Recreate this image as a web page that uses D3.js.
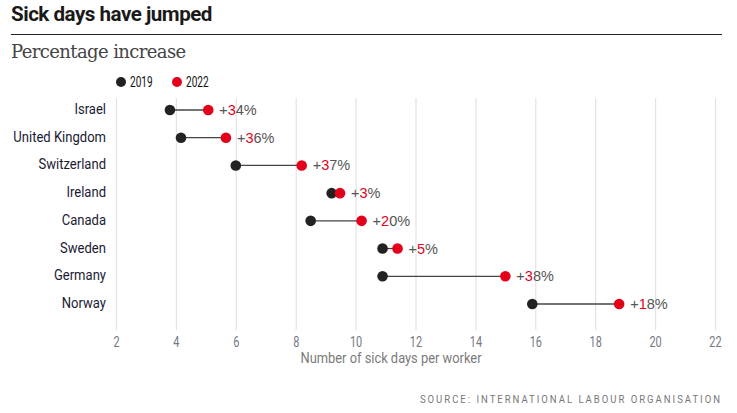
<!DOCTYPE html>
<html>
<head>
<meta charset="utf-8">
<script src="https://cdn.jsdelivr.net/npm/d3@7"></script>
<style>
  body { margin: 0; background: #fff; }
  svg { display: block; }
</style>
</head>
<body>
<svg id="chart" width="737" height="413"></svg>
<script>
// data
var countries = ["Israel", "United Kingdom", "Switzerland", "Ireland", "Canada", "Sweden", "Germany", "Norway"];
var days2019 = [3.8, 4.17, 6.0, 9.2, 8.5, 10.9, 10.9, 15.9];
var days2022 = [5.08, 5.67, 8.2, 9.48, 10.2, 11.4, 15.0, 18.8];
var increase = ["+34%", "+36%", "+37%", "+3%", "+20%", "+5%", "+38%", "+18%"];
var xTicks = [2, 4, 6, 8, 10, 12, 14, 16, 18, 20, 22];

var red = "#e4001b";
var dark = "#222222";
var cond = "Roboto, sans-serif"; // squeezed with scaleX below, no condensed face installed

var svg = d3.select("#chart");

var x = d3.scaleLinear().domain([2, 22]).range([116, 715]);
var y = d3.scalePoint().domain(countries).range([110, 304]);

// heading
svg.append("text")
  .attr("transform", "translate(11,21) scale(0.98,1)")
  .style("font-family", "Roboto, sans-serif")
  .style("font-weight", "bold")
  .style("font-size", "21px")
  .style("letter-spacing", "-0.5px")
  .style("fill", "#1a1a1a")
  .text("Sick days have jumped");

svg.append("line")
  .attr("x1", 11).attr("x2", 722)
  .attr("y1", 34.5).attr("y2", 34.5)
  .style("stroke", "#222").style("stroke-width", 1.2);

svg.append("text")
  .attr("x", 11).attr("y", 58)
  .style("font-family", "'DejaVu Serif', 'Liberation Serif', serif")
  .style("font-size", "18px")
  .style("letter-spacing", "-0.6px")
  .style("fill", "#444")
  .text("Percentage increase");

// legend
var legend = [{ label: "2019", color: dark, x: 121 }, { label: "2022", color: red, x: 177 }];
var lg = svg.append("g").selectAll("g").data(legend).enter().append("g");
lg.append("circle")
  .attr("cx", function(d) { return d.x; }).attr("cy", 82).attr("r", 5)
  .style("fill", function(d) { return d.color; });
lg.append("text")
  .attr("transform", function(d) { return "translate(" + (d.x + 9) + ",87) scale(0.72,1)"; })
  .style("font-family", cond).style("font-size", "14px").style("fill", "#111")
  .text(function(d) { return d.label; });

// grid + x axis
var xAxis = d3.axisBottom(x).tickValues(xTicks).tickSize(-232).tickPadding(7);
var gx = svg.append("g").attr("transform", "translate(0,330)").call(xAxis);
gx.select(".domain").remove();
gx.selectAll(".tick line").style("stroke", "#e3e3e3").style("stroke-width", 1.2);
gx.selectAll(".tick text")
  .attr("transform", "scale(0.78,1)")
  .style("font-family", cond).style("font-size", "14px").style("fill", "#737885");

svg.append("text")
  .attr("transform", "translate(391,363) scale(0.92,1)")
  .attr("text-anchor", "middle")
  .style("font-family", cond).style("font-size", "14px").style("fill", "#7a7a7a")
  .text("Number of sick days per worker");

// country labels
svg.append("g").selectAll("text").data(countries).enter().append("text")
  .attr("transform", function(d) { return "translate(106," + (y(d) + 4) + ") scale(0.87,1)"; })
  .attr("text-anchor", "end")
  .style("font-family", cond).style("font-size", "15px").style("fill", "#1b1b33")
  .text(function(d) { return d; });

// dumbbells
var rows = countries.map(function(c, i) {
  return { name: c, a: days2019[i], b: days2022[i], pct: increase[i] };
});

var g = svg.append("g");
g.selectAll("line.link").data(rows).enter().append("line")
  .attr("class", "link")
  .attr("x1", function(d) { return x(d.a); })
  .attr("x2", function(d) { return x(d.b); })
  .attr("y1", function(d) { return y(d.name); })
  .attr("y2", function(d) { return y(d.name); })
  .style("stroke", "#444").style("stroke-width", 1.3);

g.selectAll("circle.a").data(rows).enter().append("circle")
  .attr("class", "a")
  .attr("cx", function(d) { return x(d.a); })
  .attr("cy", function(d) { return y(d.name); })
  .attr("r", 5.3).style("fill", dark);

g.selectAll("circle.b").data(rows).enter().append("circle")
  .attr("class", "b")
  .attr("cx", function(d) { return x(d.b); })
  .attr("cy", function(d) { return y(d.name); })
  .attr("r", 5.3).style("fill", red);

var pl = g.selectAll("text.pct").data(rows).enter().append("text")
  .attr("class", "pct")
  .attr("x", function(d) { return x(d.b) + 11; })
  .attr("y", function(d) { return y(d.name) + 5; })
  .style("font-family", "'Liberation Sans', Arial, sans-serif")
  .style("font-size", "14.5px").style("fill", "#555");
// first digit drawn red, as in the original
pl.append("tspan").text(function(d) { return d.pct.slice(0, 1); });
pl.append("tspan").style("fill", red).text(function(d) { return d.pct.slice(1, 2); });
pl.append("tspan").text(function(d) { return d.pct.slice(2); });

// source
svg.append("text")
  .attr("transform", "translate(722,403) scale(0.83,1)")
  .attr("text-anchor", "end")
  .style("font-family", cond).style("font-size", "11.5px")
  .style("letter-spacing", "2.4px").style("fill", "#777")
  .text("SOURCE: INTERNATIONAL LABOUR ORGANISATION");
</script>
</body>
</html>
